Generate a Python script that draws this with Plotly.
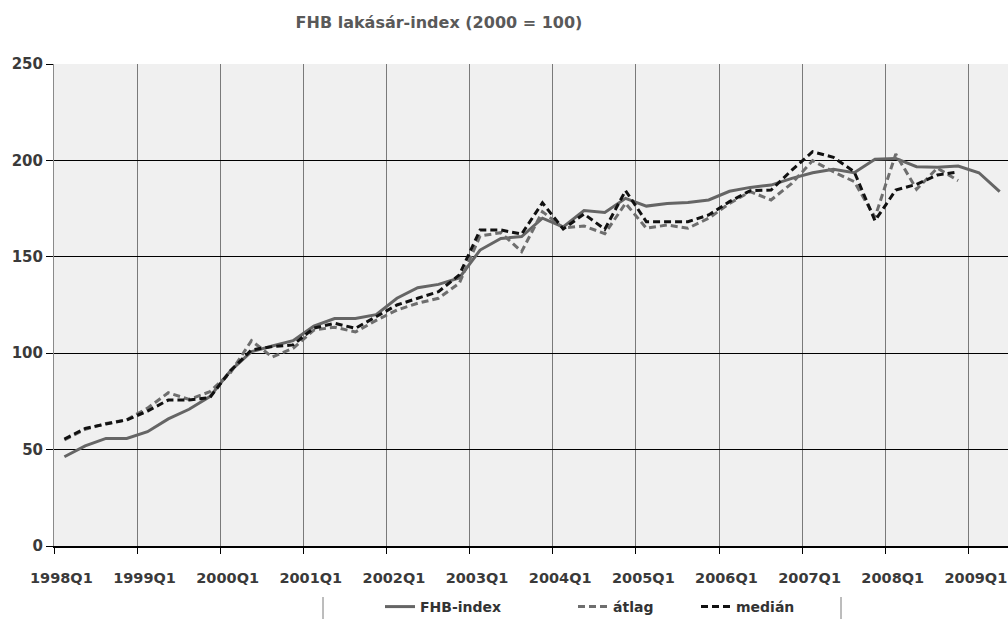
import plotly.graph_objects as go

quarters = [f"{y}Q{q}" for y in range(1998, 2010) for q in range(1, 5)][:46]

fhb_index = [46.3, 51.9, 55.8, 55.8, 59.3, 65.9, 70.9, 77.5,
             91.0, 100.8, 103.7, 106.5, 114.0, 118.0, 118.0, 120.0,
             128.5, 134.0, 135.7, 139.0, 153.5, 159.5, 160.5, 170.0,
             165.5, 174.0, 173.0, 180.3, 176.3, 177.7, 178.2, 179.5,
             184.0, 186.0, 187.2, 190.7, 193.6, 195.4, 193.6, 200.6,
             201.0, 196.7, 196.4, 197.1, 193.6, 183.8]

atlag = [55.0, 60.5, 63.5, 65.5, 71.5, 79.5, 76.0, 80.0,
         90.0, 106.5, 98.0, 102.5, 112.0, 113.5, 111.0, 117.0,
         122.4, 125.9, 128.5, 136.3, 160.8, 162.5, 152.7, 173.4,
         165.0, 166.0, 162.0, 177.7, 164.8, 166.5, 164.8, 170.0,
         177.7, 183.8, 179.5, 188.1, 199.9, 194.1, 189.0, 170.5,
         203.3, 185.0, 196.0, 189.5]

median = [55.5, 61.0, 63.3, 65.4, 70.0, 75.7, 75.7, 77.0,
          91.0, 101.7, 103.4, 104.3, 113.0, 115.5, 112.9, 118.9,
          125.0, 128.5, 131.9, 140.6, 163.9, 163.9, 161.8, 178.0,
          164.4, 172.2, 164.3, 184.3, 168.2, 168.2, 168.2, 171.7,
          178.6, 184.3, 184.6, 195.0, 204.5, 201.6, 194.1, 168.7,
          184.6, 187.6, 192.4, 194.0]

tick_idx = list(range(0, 46, 4))
tick_text = [quarters[i] for i in tick_idx]

FONT = "DejaVu Sans, Arial, sans-serif"

fig = go.Figure()
fig.add_trace(go.Scatter(x=list(range(len(fhb_index))), y=fhb_index, mode="lines",
                         name="FHB-index", line=dict(color="#656565", width=3),
                         legend="legend"))
fig.add_trace(go.Scatter(x=list(range(len(atlag))), y=atlag, mode="lines",
                         name="átlag", line=dict(color="#6e6e6e", width=3, dash="7px,4px"),
                         legend="legend2"))
fig.add_trace(go.Scatter(x=list(range(len(median))), y=median, mode="lines",
                         name="medián", line=dict(color="#111111", width=3, dash="7px,4px"),
                         legend="legend3"))

PL, PR = 54, 1008
W, H = 1008, 619

legend_common = dict(orientation="h", yanchor="middle", xanchor="left",
                     xref="container", yref="container",
                     bgcolor="rgba(0,0,0,0)",
                     font=dict(family=FONT, size=14, color="#333333", weight="bold"),
                     itemwidth=30)

fig.update_layout(
    width=W, height=H,
    margin=dict(l=PL, r=W - PR, t=64, b=73, autoexpand=False),
    paper_bgcolor="white", plot_bgcolor="#f0f0f0",
    title=dict(text="<b>FHB lakásár-index (2000 = 100)</b>", x=439 / W, xanchor="center",
               xref="container", y=1 - 22 / H, yref="container", yanchor="middle",
               font=dict(family=FONT, size=16, color="#595959")),
    showlegend=True,
    legend=dict(x=380 / W, y=1 - 607 / H, **legend_common),
    legend2=dict(x=573 / W, y=1 - 607 / H, **legend_common),
    legend3=dict(x=696 / W, y=1 - 607 / H, **legend_common),
    xaxis=dict(range=[-0.5, 45.4], tickmode="array", tickvals=tick_idx, ticktext=tick_text,
               showgrid=False, ticks="outside", ticklen=18, tickcolor="rgba(0,0,0,0)",
               zeroline=False, automargin=False, ticklabeloverflow="allow",
               ticklabelshift=-3,
               tickfont=dict(family=FONT, size=14.5, color="#3a3a3a", weight="bold"),
               showline=True, linecolor="#000000", linewidth=2,
               minor=dict(tickmode="linear", tick0=-0.5, dtick=4, showgrid=True,
                          gridcolor="#7a7a7a", gridwidth=1, ticks="outside",
                          ticklen=6, tickcolor="#000000", tickwidth=1)),
    yaxis=dict(range=[0, 250], tickmode="linear", tick0=0, dtick=50,
               showgrid=True, gridcolor="#000000", gridwidth=1,
               ticks="outside", ticklen=7, tickcolor="#000000",
               showline=True, linecolor="#8a8a8a", linewidth=1, zeroline=False,
               automargin=False,
               tickfont=dict(family=FONT, size=15, color="#3a3a3a", weight="bold")),
    shapes=[
        dict(type="line", xref="paper", yref="paper",
             x0=(323 - PL) / (PR - PL), x1=(323 - PL) / (PR - PL),
             y0=-(597 - 546) / 482, y1=-(619 - 546) / 482,
             line=dict(color="#7a7a7a", width=1)),
        dict(type="line", xref="paper", yref="paper",
             x0=(841 - PL) / (PR - PL), x1=(841 - PL) / (PR - PL),
             y0=-(597 - 546) / 482, y1=-(619 - 546) / 482,
             line=dict(color="#7a7a7a", width=1)),
    ],
)

fig.write_html("out.html", config={"displayModeBar": False})

# remove the browser's default page margin so the figure sits at the window's corner
with open("out.html", "r", encoding="utf-8") as f:
    html = f.read()
html = html.replace("<head>", "<head><style>html,body{margin:0;padding:0;overflow:hidden;}</style>", 1)
with open("out.html", "w", encoding="utf-8") as f:
    f.write(html)
